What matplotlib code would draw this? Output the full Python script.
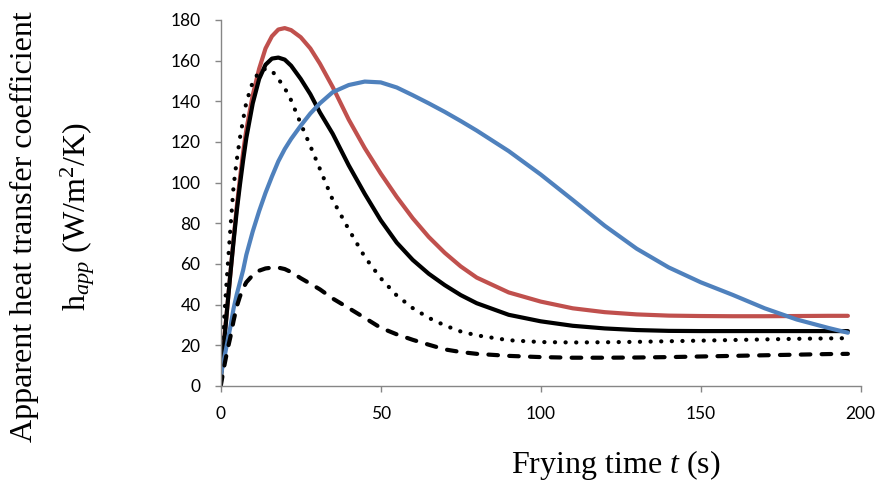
import matplotlib
matplotlib.use("Agg")
import matplotlib.pyplot as plt

# ---- values ----
t = [0, 1, 2, 3, 4, 5, 6, 7, 8, 10, 12, 14, 16, 18, 20, 22, 25, 28, 31, 35,
     40, 45, 50, 55, 60, 65, 70, 75, 80, 90, 100, 110, 120, 130, 140, 150,
     160, 170, 180, 190, 196]

h_red = [10, 22, 38, 55, 72, 88, 102, 115, 126, 143, 156, 166, 172, 175.3,
         176, 175, 171.5, 166, 158.5, 147, 131, 117, 104.5, 93, 82.5, 73.3,
         65.5, 58.8, 53.3, 46, 41.5, 38.2, 36.3, 35.2, 34.6, 34.4, 34.3,
         34.3, 34.4, 34.5, 34.5]

h_black = [3, 20, 38, 55, 71, 86, 99, 111, 122, 139, 151, 158, 161, 161.5,
           160.5, 157.5, 151, 143.5, 134.5, 124, 108.5, 94.5, 81.5, 70.5,
           62, 55.2, 49.6, 44.7, 40.7, 35, 31.8, 29.6, 28.3, 27.5, 27.1, 27,
           27, 27, 27, 27, 27]

h_dotted = [8, 32, 55, 77, 98, 111, 122, 131, 139.5, 149.5, 154.5, 156,
            155, 151, 146.5, 140.5, 129, 118, 106.7, 91.5, 77, 63.5, 53,
            44.5, 38.3, 33.5, 29.8, 26.8, 24.9, 22.5, 21.6, 21.4, 21.5, 21.7,
            22, 22.3, 22.6, 22.9, 23.2, 23.4, 23.5]

h_blue = [5, 13, 21, 29, 38, 45, 51, 57, 64.5, 76, 86, 95, 103, 110.5,
          116.5, 121.5, 128, 134, 139, 144.5, 148, 149.7, 149.3, 146.8, 143,
          139, 134.8, 130.3, 125.6, 115.5, 104, 91.5, 78.8, 67.5, 58.3, 51,
          44.8, 38.2, 32.7, 28.5, 26.2]

h_dashed = [0, 9, 17, 24, 32, 39, 44, 48, 51, 54.5, 56.7, 57.8, 58.2, 58.2,
            57.5, 56, 53, 50.3, 47.5, 43, 38.3, 33.5, 28.6, 25.4, 22.7, 20.3,
            18, 16.7, 15.8, 14.8, 14.2, 13.9, 13.9, 14, 14.2, 14.5, 14.8,
            15.1, 15.4, 15.7, 15.8]

x_ticks = [0, 50, 100, 150, 200]
y_ticks = [0, 20, 40, 60, 80, 100, 120, 140, 160, 180]

# ---- style ----
RED = "#C0504D"
BLUE = "#4F81BD"
AXIS = "#868686"
LW = 3.0

plt.rcParams["mathtext.fontset"] = "custom"
plt.rcParams["mathtext.rm"] = "Liberation Serif"
plt.rcParams["mathtext.it"] = "Liberation Serif:italic"

fig = plt.figure(figsize=(8.77, 4.99), dpi=100)
ax = fig.add_axes([0.2517, 0.2265, 0.7297, 0.7335])

ax.plot(t, h_red, color=RED, lw=LW, solid_capstyle="round")
ax.plot(t, h_black, color="black", lw=LW, solid_capstyle="round")
ax.plot(t, h_dotted, color="black", lw=LW, linestyle=(0, (0.05, 2.5)),
        dash_capstyle="round")
ax.plot(t, h_blue, color=BLUE, lw=LW, solid_capstyle="round")
ax.plot(t, h_dashed, color="black", lw=LW, linestyle=(0, (2.3, 2.7)),
        dash_capstyle="round")

ax.set_xlim(0, 200)
ax.set_ylim(0, 180)
ax.set_xticks(x_ticks)
ax.set_yticks(y_ticks)
for sp in ("top", "right"):
    ax.spines[sp].set_visible(False)
for sp in ("left", "bottom"):
    ax.spines[sp].set_color(AXIS)
    ax.spines[sp].set_linewidth(1.0)
ax.tick_params(direction="out", length=4.5, width=1.0, color=AXIS,
               pad=10, labelsize=12.5)
for lab in ax.get_xticklabels() + ax.get_yticklabels():
    lab.set_family("Lato")

serif = "Liberation Serif"
fs = 23
fig.text(616 / 877, 1 - 465 / 499, r"Frying time $\mathit{t}$ (s)",
         ha="center", va="center", fontsize=fs, family=serif)
fig.text(24 / 877, 1 - 227 / 499, "Apparent heat transfer coefficient",
         ha="center", va="center", rotation=90, fontsize=fs, family=serif)
fig.text(78 / 877, 1 - 217 / 499, r"h$_{\mathit{app}}$ (W/m$^2$/K)",
         ha="center", va="center", rotation=90, fontsize=fs, family=serif)

fig.savefig("out.png", dpi=100, facecolor="white")
